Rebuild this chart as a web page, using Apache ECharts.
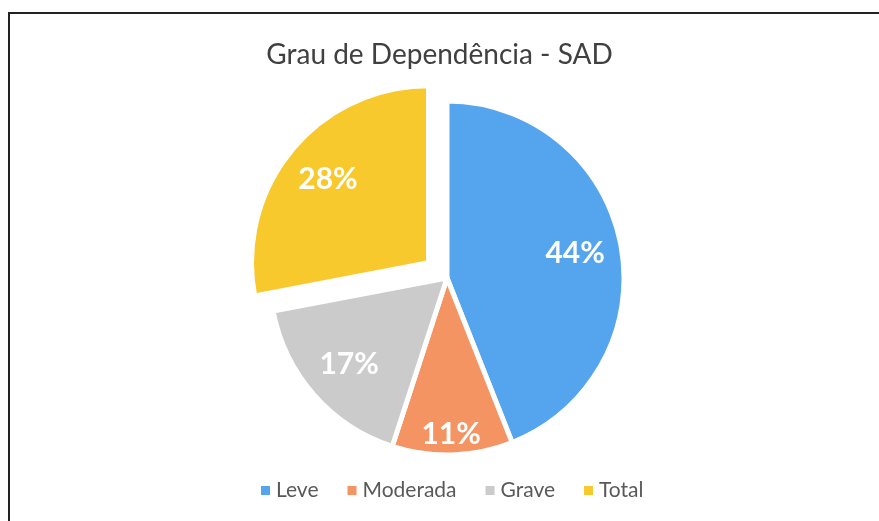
<!DOCTYPE html>
<html>
<head>
<meta charset="utf-8">
<script src="https://cdn.jsdelivr.net/npm/echarts@6/dist/echarts.min.js"></script>
<style>
  html, body { margin: 0; padding: 0; background: #fff; }
  #chart { width: 879px; height: 521px; }
</style>
</head>
<body>
<div id="chart"></div>
<script>
var categories = ["Leve", "Moderada", "Grave", "Total"];
var values = [44, 11, 17, 28];
var colors = ["#55a5ee", "#f39462", "#cbcbcb", "#f8c92c"];
var explodedIndex = 3;

var center = [447, 278];
var radius = 177;

var myChart = echarts.init(document.getElementById("chart"));

var sliceData = categories.map(function (name, i) {
  return {
    name: name,
    value: values[i],
    selected: i === explodedIndex,
    itemStyle: { color: colors[i] }
  };
});

// the narrow orange slice has its label pushed outward, as in the original
var labelData = categories.map(function (name, i) {
  var item = { name: name, value: values[i], selected: i === explodedIndex };
  if (name === "Moderada") item.label = { offset: [0, 26] };
  return item;
});

var option = {
  animation: false,
  title: {
    text: "Grau de Dependência - SAD",
    left: "center",
    top: 36,
    textStyle: {
      fontFamily: "Lato",
      fontSize: 28,
      fontWeight: "normal",
      color: "#404040"
    }
  },
  legend: {
    bottom: 15,
    left: 254,
    icon: "rect",
    itemWidth: 11,
    itemHeight: 11,
    itemGap: 27,
    selectedMode: false,
    data: categories,
    textStyle: {
      fontFamily: "Lato",
      fontSize: 21,
      color: "#595959"
    }
  },
  graphic: [
    {
      type: "polyline",
      shape: { points: [[9, 521], [9, 13], [879, 13]] },
      style: { stroke: "#222", lineWidth: 2, fill: null },
      silent: true
    }
  ],
  series: [
    {
      name: "Grau de Dependência",
      type: "pie",
      center: center,
      radius: [0, radius],
      startAngle: 90,
      clockwise: true,
      selectedMode: "multiple",
      selectedOffset: 24,
      itemStyle: { borderColor: "#fff", borderWidth: 5 },
      label: { show: false },
      labelLine: { show: false },
      emphasis: { disabled: true },
      data: sliceData
    },
    {
      name: "labels",
      type: "pie",
      center: center,
      radius: [radius * 0.44, radius],
      startAngle: 90,
      clockwise: true,
      silent: true,
      selectedMode: "multiple",
      selectedOffset: 24,
      itemStyle: { color: "rgba(0,0,0,0)" },
      label: {
        show: true,
        position: "inside",
        formatter: "{c}%",
        color: "#fff",
        fontFamily: "Lato",
        fontWeight: "bold",
        fontSize: 30
      },
      labelLine: { show: false },
      emphasis: { disabled: true },
      data: labelData
    }
  ]
};

myChart.setOption(option);
</script>
</body>
</html>
